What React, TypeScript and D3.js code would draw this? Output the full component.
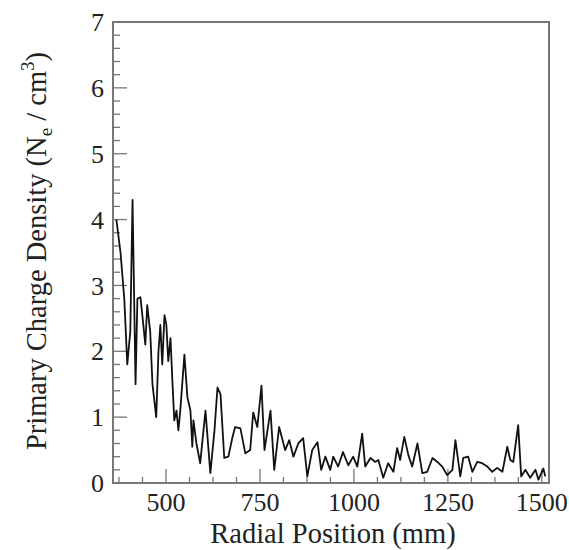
import React from "react";
import * as d3 from "d3";

const radialPosition = [368,379,389,397,405,411,419,424,432,437,445,450,458,464,469,474,480,485,490,496,501,506,512,517,522,528,533,538,549,557,565,570,573,581,591,605,618,629,637,645,655,666,677,684,698,711,724,732,743,754,762,778,788,801,817,828,839,852,865,876,889,903,913,924,937,945,958,971,985,998,1009,1022,1030,1044,1057,1065,1078,1091,1105,1115,1123,1134,1145,1155,1169,1182,1195,1209,1222,1235,1248,1262,1270,1283,1291,1304,1315,1328,1341,1355,1368,1381,1395,1408,1416,1424,1437,1445,1456,1469,1483,1491,1504,1509];
const chargeDensity = [4.0,3.5,2.8,1.8,2.3,4.3,1.5,2.8,2.82,2.55,2.1,2.7,2.3,1.5,1.25,1.0,2.0,2.4,1.8,2.55,2.4,1.85,2.2,1.55,0.95,1.1,0.8,1.1,1.95,1.3,1.1,0.55,0.95,0.6,0.3,1.1,0.15,0.8,1.45,1.35,0.38,0.4,0.7,0.85,0.83,0.45,0.5,1.07,0.85,1.48,0.5,1.1,0.2,0.85,0.5,0.65,0.4,0.6,0.68,0.1,0.5,0.62,0.2,0.4,0.2,0.4,0.25,0.47,0.27,0.4,0.25,0.75,0.25,0.38,0.32,0.35,0.08,0.3,0.17,0.53,0.35,0.7,0.42,0.25,0.6,0.15,0.17,0.38,0.32,0.25,0.12,0.2,0.65,0.1,0.38,0.4,0.17,0.32,0.3,0.25,0.17,0.23,0.17,0.55,0.35,0.32,0.88,0.1,0.2,0.08,0.2,0.05,0.22,0.1];

const xMajorTicks = [500, 750, 1000, 1250, 1500];
const yMajorTicks = [0, 1, 2, 3, 4, 5, 6, 7];

export default function App() {
  const W = 569, H = 550;
  const left = 113, right = 549, top = 22, bottom = 483;
  const x = d3.scaleLinear().domain([359, 1519]).range([left, right]);
  const y = d3.scaleLinear().domain([0, 7]).range([bottom, top]);

  const xMinor = d3.range(375, 1519, 62.5).filter(v => !xMajorTicks.includes(v));
  const yMinor = d3.range(0, 7.001, 0.2).map(v => +v.toFixed(1)).filter(v => !yMajorTicks.includes(v));

  const pts = radialPosition.map((r, i) => [r, chargeDensity[i]] as [number, number]);
  const line = d3.line<[number, number]>().x(d => x(d[0])).y(d => y(d[1]));

  const frame = "#777";
  const txt = "#222";

  return (
    <svg width={W} height={H} fontFamily="Liberation Serif" style={{ position: "absolute", left: 0, top: 0 }}>
      <style>{`.lbl { font-family: "Liberation Serif", Tinos, "Times New Roman", Times !important; }`}</style>
      <rect x={0} y={0} width={W} height={H} fill="#fff" />
      {yMinor.map(v => (
        <line key={"ym" + v} x1={left} x2={left + 7} y1={y(v)} y2={y(v)} stroke={frame} strokeWidth={1.3} />
      ))}
      {yMajorTicks.map(v => (
        <line key={"yM" + v} x1={left} x2={left + 14} y1={y(v)} y2={y(v)} stroke={frame} strokeWidth={1.3} />
      ))}
      {xMinor.map(v => (
        <line key={"xm" + v} x1={x(v)} x2={x(v)} y1={bottom} y2={bottom - 6} stroke={frame} strokeWidth={1.3} />
      ))}
      {xMajorTicks.map(v => (
        <line key={"xM" + v} x1={x(v)} x2={x(v)} y1={bottom} y2={bottom - 14} stroke={frame} strokeWidth={1.3} />
      ))}
      <path d={line(pts) || ""} fill="none" stroke="#111" strokeWidth={1.8} strokeLinejoin="round" />
      <rect x={left} y={top} width={right - left} height={bottom - top} fill="none" stroke={frame} strokeWidth={2} />
      {yMajorTicks.map(v => (
        <text key={"yl" + v} className="lbl" x={104} y={y(v)} dy="0.35em" textAnchor="end" fontSize={26} fill={txt}>{v}</text>
      ))}
      {xMajorTicks.map(v => (
        <text key={"xl" + v} className="lbl" x={x(v)} y={511} textAnchor="middle" fontSize={26} fill={txt}>{v}</text>
      ))}
      <text className="lbl" x={(left + right) / 2 + 2} y={543} textAnchor="middle" fontSize={28.5} fill={txt}>Radial Position (mm)</text>
      <text className="lbl" transform={`translate(46,251) rotate(-90)`} textAnchor="middle" fontSize={28.5} fill={txt}>
        Primary Charge Density (N<tspan fontSize={19} dy={6}>e</tspan><tspan dy={-6}> / cm</tspan><tspan fontSize={19} dy={-12}>3</tspan><tspan dy={12}>)</tspan>
      </text>
    </svg>
  );
}
